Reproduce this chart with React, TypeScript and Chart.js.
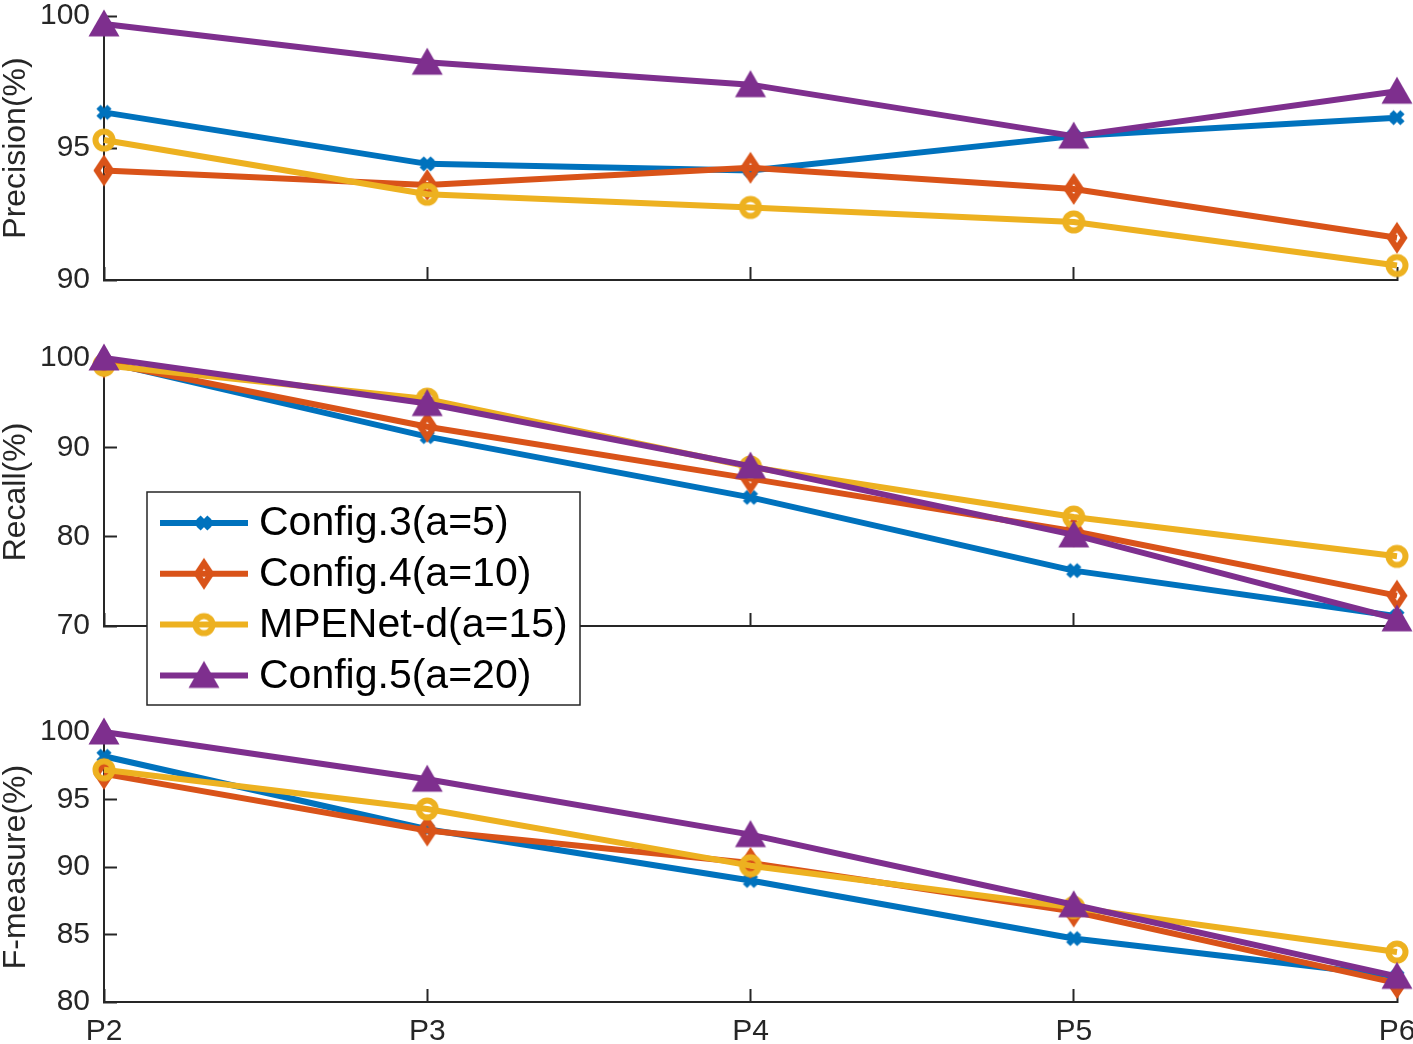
import React, { useEffect, useRef } from 'react';
import { Chart, registerables } from 'chart.js';

Chart.register(...registerables);

// ---------- data ----------
const categories = ['P2', 'P3', 'P4', 'P5', 'P6'];
const seriesNames = ['Config.3(a=5)', 'Config.4(a=10)', 'MPENet-d(a=15)', 'Config.5(a=20)'];

const precisionConfig3 = [96.35, 94.4, 94.15, 95.45, 96.15];
const precisionConfig4 = [94.15, 93.6, 94.25, 93.45, 91.6];
const precisionMPENet = [95.3, 93.25, 92.75, 92.2, 90.55];
const precisionConfig5 = [99.7, 98.25, 97.4, 95.45, 97.15];

const recallConfig3 = [99.6, 91.2, 84.4, 76.2, 71.1];
const recallConfig4 = [99.5, 92.3, 86.5, 80.6, 73.4];
const recallMPENet = [99.2, 95.4, 87.8, 82.2, 77.8];
const recallConfig5 = [100, 94.9, 87.9, 80.2, 70.8];

const fConfig3 = [98.2, 92.8, 89.0, 84.7, 81.9];
const fConfig4 = [96.9, 92.7, 90.3, 86.7, 81.4];
const fMPENet = [97.2, 94.3, 90.1, 87.0, 83.7];
const fConfig5 = [100, 96.5, 92.4, 87.2, 81.9];

const precisionTicks = [90, 95, 100];
const recallTicks = [70, 80, 90, 100];
const fTicks = [80, 85, 90, 95, 100];

// ---------- style ----------
const COLORS = ['#0072BD', '#D95319', '#EDB120', '#7E2F8E'];
const MARKER_KINDS = ['x', 'diamond', 'circle', 'triangle'];
const FONT = "'Liberation Sans', Arial, Helvetica, sans-serif";
const INK = '#262626';
const LINE_W = 6;

function makeMarker(kind: string, color: string): HTMLCanvasElement {
  const c = document.createElement('canvas');
  c.width = 40;
  c.height = 40;
  const g = c.getContext('2d')!;
  g.translate(20, 20);
  g.strokeStyle = color;
  g.fillStyle = color;
  g.lineJoin = 'miter';
  g.beginPath();
  if (kind === 'x') {
    g.lineWidth = 6;
    g.moveTo(-5.5, -5.5);
    g.lineTo(5.5, 5.5);
    g.moveTo(5.5, -5.5);
    g.lineTo(-5.5, 5.5);
    g.stroke();
  } else if (kind === 'diamond') {
    g.lineWidth = 6;
    g.moveTo(0, -10.5);
    g.lineTo(7, 0);
    g.lineTo(0, 10.5);
    g.lineTo(-7, 0);
    g.closePath();
    g.stroke();
  } else if (kind === 'circle') {
    g.lineWidth = 6;
    g.arc(0, 0, 8.5, 0, Math.PI * 2);
    g.stroke();
  } else {
    g.moveTo(0, -14.5);
    g.lineTo(15.5, 12.5);
    g.lineTo(-15.5, 12.5);
    g.closePath();
    g.fill();
  }
  return c;
}

interface PanelOpts {
  values: number[][];
  min: number;
  max: number;
  ticks: number[];
  label: string;
  padTop: number;
  xHeight: number;
  showX: boolean;
  markers: HTMLCanvasElement[];
  plugins?: any[];
}

function buildConfig(o: PanelOpts): any {
  const gridOpts = {
    display: true,
    drawOnChartArea: false,
    drawTicks: true,
    tickLength: -13,
    tickColor: INK,
    tickWidth: 2,
    color: INK,
  };
  return {
    type: 'line',
    data: {
      labels: categories,
      datasets: o.values.map((data, i) => ({
        label: seriesNames[i],
        data,
        borderColor: COLORS[i],
        backgroundColor: COLORS[i],
        borderWidth: LINE_W,
        borderJoinStyle: 'round',
        pointStyle: o.markers[i],
        pointRadius: 10,
        pointHoverRadius: 10,
        clip: false,
        order: 4 - i,
        tension: 0,
      })),
    },
    options: {
      responsive: false,
      animation: false,
      events: [],
      layout: { padding: { top: o.padTop, right: 16, left: 0, bottom: 0 } },
      plugins: { legend: { display: false }, tooltip: { enabled: false } },
      scales: {
        x: {
          type: 'category',
          offset: false,
          grid: gridOpts,
          border: { display: true, color: INK, width: 2 },
          ticks: {
            display: o.showX,
            color: INK,
            font: { size: 30, family: FONT },
            padding: 25,
            maxRotation: 0,
            autoSkip: false,
          },
          afterFit: (s: any) => {
            s.height = o.xHeight;
            s.paddingLeft = 0;
            s.paddingRight = 0;
          },
        },
        y: {
          min: o.min,
          max: o.max,
          afterBuildTicks: (s: any) => {
            s.ticks = o.ticks.map((v) => ({ value: v }));
          },
          grid: gridOpts,
          border: { display: true, color: INK, width: 2 },
          ticks: { color: INK, font: { size: 30, family: FONT }, padding: 27 },
          title: {
            display: true,
            text: o.label,
            color: INK,
            font: { size: 32, family: FONT, lineHeight: 1 },
            padding: 0,
          },
          afterFit: (s: any) => {
            s.width = 104;
            s.paddingTop = 0;
            s.paddingBottom = 0;
          },
        },
      },
    },
    plugins: o.plugins || [],
  };
}

export default function App() {
  const r1 = useRef<HTMLCanvasElement>(null);
  const r2 = useRef<HTMLCanvasElement>(null);
  const r3 = useRef<HTMLCanvasElement>(null);

  useEffect(() => {
    document.body.style.margin = '0';
    const markers = MARKER_KINDS.map((k, i) => makeMarker(k, COLORS[i]));

    const legendPlugin = {
      id: 'matlabLegend',
      afterDraw(chart: any) {
        const ctx = chart.ctx as CanvasRenderingContext2D;
        const bx = 147, by = 162, bw = 433, bh = 213;
        ctx.save();
        ctx.fillStyle = '#ffffff';
        ctx.fillRect(bx, by, bw, bh);
        ctx.strokeStyle = INK;
        ctx.lineWidth = 1.5;
        ctx.strokeRect(bx, by, bw, bh);
        chart.data.datasets.forEach((ds: any, i: number) => {
          const y = 193 + i * 50.8;
          ctx.strokeStyle = ds.borderColor;
          ctx.lineWidth = LINE_W;
          ctx.beginPath();
          ctx.moveTo(160, y);
          ctx.lineTo(248, y);
          ctx.stroke();
          const m = ds.pointStyle as HTMLCanvasElement;
          ctx.drawImage(m, 204 - m.width / 2, y - m.height / 2);
          ctx.fillStyle = '#000000';
          ctx.font = `41px ${FONT}`;
          ctx.textAlign = 'left';
          ctx.textBaseline = 'middle';
          ctx.fillText(ds.label, 259, y + 1);
        });
        ctx.restore();
      },
    };

    const c1 = new Chart(
      r1.current!,
      buildConfig({
        values: [precisionConfig3, precisionConfig4, precisionMPENet, precisionConfig5],
        min: 90,
        max: 100,
        ticks: precisionTicks,
        label: 'Precision(%)',
        padTop: 11,
        xHeight: 20,
        showX: false,
        markers,
      })
    );
    const c2 = new Chart(
      r2.current!,
      buildConfig({
        values: [recallConfig3, recallConfig4, recallMPENet, recallConfig5],
        min: 70,
        max: 100,
        ticks: recallTicks,
        label: 'Recall(%)',
        padTop: 28,
        xHeight: 84,
        showX: false,
        markers,
        plugins: [legendPlugin],
      })
    );
    const c3 = new Chart(
      r3.current!,
      buildConfig({
        values: [fConfig3, fConfig4, fMPENet, fConfig5],
        min: 80,
        max: 100,
        ticks: fTicks,
        label: 'F-measure(%)',
        padTop: 32,
        xHeight: 42,
        showX: true,
        markers,
      })
    );
    return () => {
      c1.destroy();
      c2.destroy();
      c3.destroy();
    };
  }, []);

  return (
    <div style={{ position: 'relative', width: 1413, height: 1044, background: '#ffffff' }}>
      <canvas ref={r1} width={1413} height={300} style={{ position: 'absolute', left: 0, top: 0 }} />
      <canvas ref={r3} width={1413} height={344} style={{ position: 'absolute', left: 0, top: 700 }} />
      <canvas ref={r2} width={1413} height={380} style={{ position: 'absolute', left: 0, top: 330 }} />
    </div>
  );
}
